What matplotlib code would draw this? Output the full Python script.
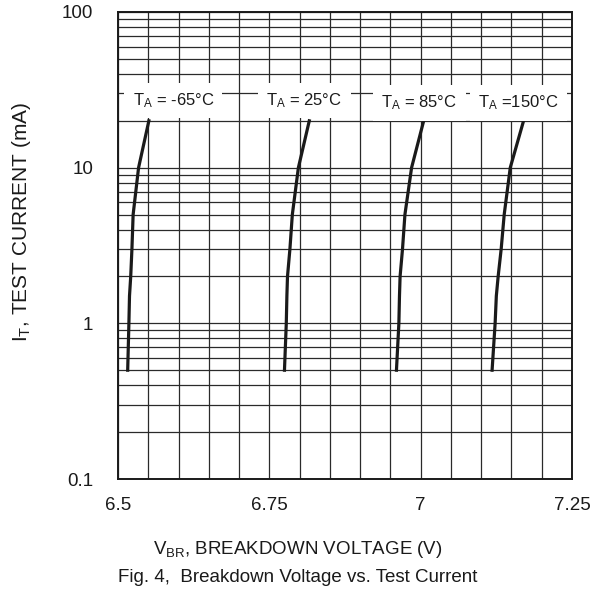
# Breakdown voltage vs. test current (Fig. 4)

import matplotlib
matplotlib.use("Agg")
import matplotlib.pyplot as plt
import numpy as np
from matplotlib.ticker import FixedLocator, NullFormatter, LogLocator

plt.rcParams['font.family'] = ['Liberation Sans', 'DejaVu Sans']
plt.rcParams['mathtext.default'] = 'regular'

# -----------------------------------------------------------------------------
# Data

current_ma = [0.5, 1, 1.5, 2, 3, 5, 10, 20]
v_m65 = [6.516, 6.518, 6.519, 6.521, 6.523, 6.525, 6.534, 6.551]
v_25 = [6.775, 6.778, 6.779, 6.780, 6.784, 6.788, 6.798, 6.816]
v_85 = [6.960, 6.964, 6.965, 6.966, 6.970, 6.974, 6.985, 7.005]
v_150 = [7.118, 7.123, 7.125, 7.128, 7.133, 7.138, 7.148, 7.170]

curves = [v_m65, v_25, v_85, v_150]
labels = [r'T$_A$ = -65°C', r'T$_A$ = 25°C', r'T$_A$ = 85°C', r'T$_A$ =150°C']
label_x = [6.524, 6.745, 6.935, 7.095]
label_y = [27, 27, 26, 26]

x_ticks = [6.5, 6.75, 7, 7.25]
x_tick_labels = ["6.5", "6.75", "7", "7.25"]
y_ticks = [0.1, 1, 10, 100]
y_tick_labels = ["0.1", "1", "10", "100"]

# -----------------------------------------------------------------------------
# Plot

fig = plt.figure(figsize=(6.05, 5.92), dpi=100)
ax = fig.add_axes([118/605, 1-479/592, 454/605, 467/592])

ax.set_yscale('log')
ax.set_xlim(6.5, 7.25)
ax.set_ylim(0.1, 100)

# grid
ax.xaxis.set_major_locator(FixedLocator(x_ticks))
ax.xaxis.set_minor_locator(FixedLocator(np.arange(6.5, 7.2501, 0.05)))
ax.yaxis.set_major_locator(FixedLocator(y_ticks))
ax.yaxis.set_minor_locator(LogLocator(base=10, subs=np.arange(2, 10)))
ax.yaxis.set_minor_formatter(NullFormatter())
ax.set_xticklabels(x_tick_labels)
ax.set_yticklabels(y_tick_labels)
ax.grid(True, which='both', color='#2a2a2a', linewidth=0.9)
ax.set_axisbelow(True)
ax.tick_params(which='both', length=0, labelsize=13.5, colors='#1a1a1a')
ax.tick_params(axis='x', pad=13)
ax.tick_params(axis='y', pad=18)
for s in ax.spines.values():
    s.set_linewidth(1.4)
    s.set_color('#1a1a1a')

for v, lab, lx, ly in zip(curves, labels, label_x, label_y):
    ax.plot(v, current_ma, color='#1a1a1a', linewidth=2.3, zorder=3)
    ax.text(lx, ly, lab, fontsize=12, ha='left', va='center', color='#1a1a1a', zorder=4,
            bbox=dict(facecolor='white', edgecolor='none', pad=6))

fig.text(22/605, 1-222/592, r'I$_T$, TEST CURRENT (mA)', rotation=90, ha='center', va='center',
         fontsize=15, color='#1a1a1a')
fig.text(298/605, 1-550/592, r'V$_{BR}$, BREAKDOWN VOLTAGE (V)', ha='center', va='center',
         fontsize=13.5, color='#1a1a1a')
fig.text(298/605, 1-578/592, 'Fig. 4,  Breakdown Voltage vs. Test Current', ha='center', va='center',
         fontsize=13.5, color='#1a1a1a')

fig.savefig("out.png", dpi=100)
